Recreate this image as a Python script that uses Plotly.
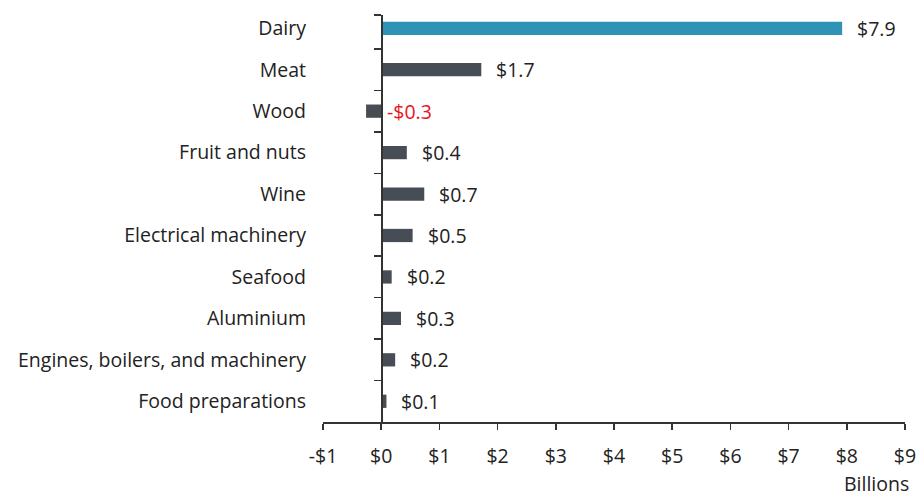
import plotly.graph_objects as go

categories = ["Dairy", "Meat", "Wood", "Fruit and nuts", "Wine", "Electrical machinery",
              "Seafood", "Aluminium", "Engines, boilers, and machinery", "Food preparations"]
values = [7.92, 1.72, -0.26, 0.44, 0.74, 0.54, 0.18, 0.34, 0.24, 0.09]
labels = ["$7.9", "$1.7", "-$0.3", "$0.4", "$0.7", "$0.5", "$0.2", "$0.3", "$0.2", "$0.1"]
x_ticks = list(range(-1, 10))
x_tick_labels = ["-$1", "$0", "$1", "$2", "$3", "$4", "$5", "$6", "$7", "$8", "$9"]

FONT = "Open Sans"
FS = 19.5
TXT = "#222222"
AXC = "#333333"
HIGHLIGHT = "#2E93B5"
BASE = "#474D55"
NEG = "#E8151B"

colors = [HIGHLIGHT if i == 0 else BASE for i in range(len(categories))]
n = len(categories)
xmin, xmax = -1, 9
y_top = -0.32
y_bottom = n - 0.5

fig = go.Figure()
fig.add_trace(go.Bar(
    y=categories, x=values, orientation="h",
    marker=dict(color=colors, line=dict(width=0)),
    width=0.32, hoverinfo="skip",
))
# invisible helper trace so the zero-positioned axis is drawn
fig.add_trace(go.Scatter(
    x=[0, 0], y=[y_bottom, y_top], yaxis="y2", mode="lines",
    line=dict(width=0, color="rgba(0,0,0,0)"), hoverinfo="skip",
))

for c, v, t in zip(categories, values, labels):
    fig.add_annotation(
        x=max(v, 0), y=c, text=t, showarrow=False, xanchor="left",
        xshift=13 if v > 0 else 4,
        font=dict(family=FONT, size=FS, color=NEG if v < 0 else TXT),
    )

fig.add_annotation(
    xref="paper", yref="paper", x=1.0103, y=-0.15, text="Billions",
    showarrow=False, xanchor="right", yanchor="middle",
    font=dict(family=FONT, size=FS, color=TXT),
)

zero_pos = (0 - xmin) / (xmax - xmin)

fig.update_layout(
    template="none",
    width=919, height=498,
    margin=dict(l=323, r=14, t=15, b=76, autoexpand=False),
    plot_bgcolor="white", paper_bgcolor="white",
    showlegend=False, hovermode=False,
    font=dict(family=FONT, size=FS, color=TXT),
    xaxis=dict(
        range=[xmin, xmax], domain=[0, 1], automargin=False,
        tickvals=x_ticks, ticktext=x_tick_labels,
        showgrid=False, zeroline=False,
        showline=True, linecolor=AXC, linewidth=1.5,
        ticks="outside", ticklen=6, tickwidth=1.5, tickcolor=AXC,
        ticklabelstandoff=10,
        tickfont=dict(family=FONT, size=FS, color=TXT),
        fixedrange=True,
    ),
    yaxis=dict(
        type="category", categoryorder="array", categoryarray=categories,
        range=[y_bottom, y_top], automargin=False,
        showgrid=False, zeroline=False, showline=False, ticks="",
        ticklabelstandoff=16,
        tickfont=dict(family=FONT, size=FS, color=TXT),
        fixedrange=True,
    ),
    yaxis2=dict(
        overlaying="y", anchor="free", position=zero_pos, side="left",
        range=[y_bottom, y_top], automargin=False,
        tickvals=[y_top] + [i - 0.5 for i in range(1, n)],
        showticklabels=False,
        showgrid=False, zeroline=False,
        showline=True, linecolor=AXC, linewidth=1.5,
        ticks="outside", ticklen=7, tickwidth=1.5, tickcolor=AXC,
        fixedrange=True,
    ),
)

fig.write_html(
    "out.html",
    config={"displayModeBar": False, "staticPlot": True},
    post_script="document.body.style.margin='0';document.body.style.overflow='hidden';",
)
